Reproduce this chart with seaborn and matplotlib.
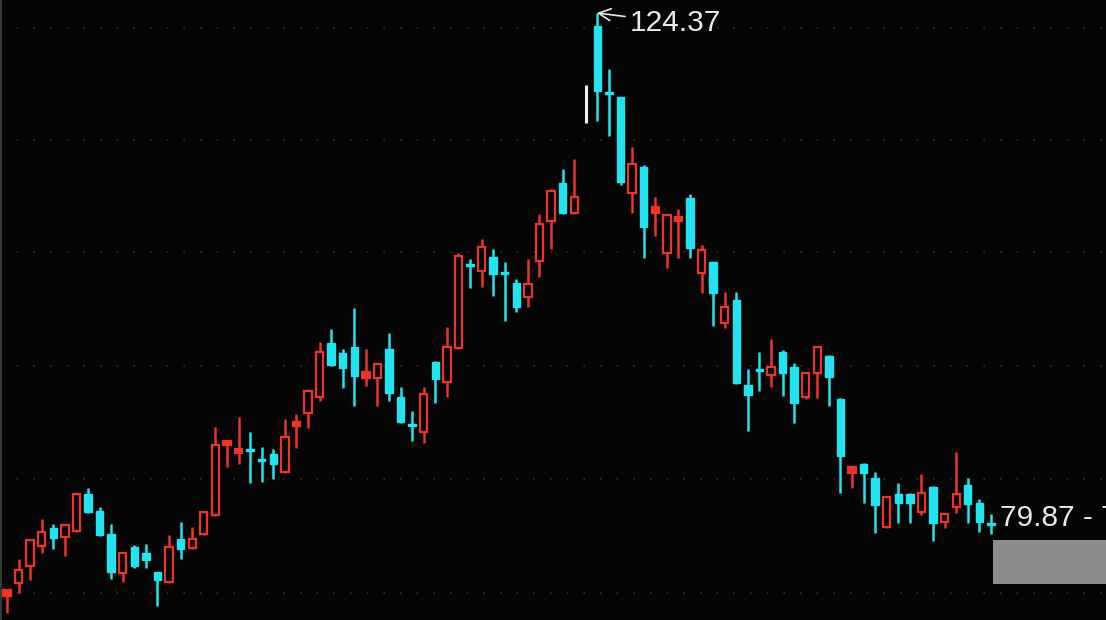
import numpy as np
import pandas as pd
import matplotlib
matplotlib.use("Agg")
import matplotlib.pyplot as plt
import seaborn as sns

# ---- data ----
opens = [73.59, 74.72, 76.20, 77.94, 79.51, 78.73, 79.25, 82.47, 80.99, 78.99,
         75.59, 77.86, 77.33, 75.68, 74.81, 78.55, 77.77, 78.99, 80.64, 86.74,
         86.04, 86.39, 85.52, 85.96, 84.39, 88.40, 89.53, 90.92, 95.62, 94.75,
         95.28, 92.58, 92.58, 95.10, 90.92, 88.57, 87.87, 93.97, 92.23, 95.19,
         102.51, 101.90, 103.12, 101.81, 100.85, 99.63, 102.77, 106.25, 109.56, 106.95,
         118.10, 123.24, 117.49, 117.05, 108.69, 110.95, 106.95, 103.46, 106.25, 108.25,
         101.72, 102.68, 97.37, 99.37, 91.97, 93.36, 92.84, 94.84, 93.53, 90.92,
         93.01, 94.49, 90.75, 84.30, 85.09, 83.87, 79.60, 82.47, 82.47, 80.90,
         83.08, 80.03, 81.34, 83.26, 81.69, 79.95]
highs = [74.20, 76.81, 78.55, 80.30, 79.86, 79.86, 82.56, 83.00, 81.34, 79.86,
         77.42, 78.03, 78.12, 75.68, 78.90, 80.03, 79.60, 80.99, 88.31, 87.18,
         89.18, 87.87, 86.57, 86.39, 89.01, 89.44, 91.62, 95.71, 96.84, 95.10,
         98.67, 95.10, 93.88, 96.50, 91.79, 89.70, 91.79, 94.06, 97.02, 103.46,
         102.94, 104.68, 103.81, 102.68, 101.20, 102.94, 106.86, 109.04, 110.78, 111.65,
         118.10, 124.37, 119.49, 117.05, 112.70, 111.13, 108.34, 106.86, 107.30, 108.60,
         104.16, 102.68, 100.07, 100.07, 93.36, 94.84, 95.97, 95.01, 93.88, 93.01,
         95.28, 94.58, 90.83, 85.00, 85.17, 84.39, 82.30, 83.43, 82.56, 84.21,
         83.17, 80.73, 86.13, 83.87, 82.04, 80.73]
lows = [72.11, 73.85, 74.98, 77.33, 77.68, 77.07, 79.16, 80.82, 78.81, 75.07,
        74.81, 76.03, 76.03, 72.72, 74.72, 76.81, 77.68, 78.90, 80.56, 84.82,
        85.09, 83.43, 83.52, 83.78, 84.30, 86.48, 88.22, 90.57, 93.62, 91.71,
        90.14, 91.88, 90.14, 90.57, 88.66, 87.09, 86.91, 90.40, 90.92, 95.10,
        100.42, 100.50, 99.72, 97.54, 98.32, 98.76, 101.37, 103.81, 106.86, 106.86,
        114.79, 114.96, 113.65, 109.39, 106.95, 103.03, 104.94, 102.16, 103.03, 103.03,
        99.98, 97.11, 96.93, 92.05, 87.96, 91.44, 91.79, 91.01, 88.66, 90.75,
        90.83, 90.14, 82.56, 83.00, 81.69, 79.08, 79.51, 79.95, 79.95, 80.64,
        78.38, 79.51, 80.82, 79.95, 79.16, 78.99]
closes = [74.11, 75.85, 78.47, 79.16, 78.64, 79.77, 82.47, 80.90, 78.90, 75.68,
          77.33, 76.20, 76.72, 74.98, 77.86, 77.68, 78.55, 80.90, 86.74, 87.09,
          86.39, 86.22, 85.35, 85.09, 87.44, 88.74, 91.44, 94.84, 93.71, 93.45,
          92.75, 93.10, 93.80, 91.27, 88.74, 88.40, 91.18, 92.49, 95.28, 103.20,
          102.33, 103.99, 101.63, 101.63, 98.76, 100.76, 105.99, 108.86, 106.95, 108.34,
          114.79, 117.57, 117.31, 109.65, 111.22, 105.73, 107.47, 106.77, 106.60, 103.90,
          103.72, 99.98, 98.76, 92.14, 91.10, 93.19, 93.53, 93.01, 90.40, 93.01,
          95.28, 92.66, 85.78, 84.82, 84.30, 81.51, 82.21, 81.69, 81.69, 82.56,
          79.95, 80.73, 82.47, 81.60, 80.03, 79.77]
# candle 51 is drawn as a plain white line in the source
flat_index = [50]
grid_levels = [123.06, 113.31, 103.55, 93.62, 83.78, 73.85]
high_label = "124.37"
last_label = "79.87 - 79.87"

df = pd.DataFrame({"open": opens, "high": highs, "low": lows, "close": closes})
df["idx"] = np.arange(len(df))
df["kind"] = np.where(df["close"] >= df["open"], "up", "down")
df.loc[flat_index, "kind"] = "flat"

# ---- style ----
BG = "#050505"
RED = "#ec3428"
CYAN = "#22e3ef"
sns.set_theme(style="dark", rc={"axes.facecolor": BG, "figure.facecolor": BG,
                                "axes.grid": False})
plt.rcParams["font.family"] = ["Liberation Sans", "DejaVu Sans"]

fig = plt.figure(figsize=(11.06, 6.2), dpi=100)
ax = fig.add_axes([0, 0, 1, 1])
ax.set_facecolor(BG)

# gridlines (dotted dark red)
for g in grid_levels:
    ax.axhline(g, color="#5c1f1c", lw=1.2, ls=(0, (1, 9)), zorder=0)

palette = {"up": RED, "down": CYAN, "flat": "#f0f0f0"}
# wicks
for kind, sub in df.groupby("kind"):
    ax.vlines(sub["idx"], sub["low"], sub["high"], color=palette[kind],
              lw=1.8 if kind != "flat" else 2.2, zorder=2)

w = 0.64
down = df[df["kind"] == "down"]
body_d = (down["open"] - down["close"]).clip(lower=0.18)
ax.bar(down["idx"], body_d, bottom=down["close"], width=w, color=CYAN,
       edgecolor=CYAN, linewidth=1.0, zorder=3)
up = df[df["kind"] == "up"]
body_u = (up["close"] - up["open"]).clip(lower=0.18)
small = body_u < 0.6
ax.bar(up["idx"][~small], body_u[~small], bottom=up["open"][~small], width=w,
       color=BG, edgecolor=RED, linewidth=1.6, zorder=3)
ax.bar(up["idx"][small], body_u[small], bottom=up["open"][small], width=w,
       color=RED, edgecolor=RED, linewidth=1.6, zorder=3)

# axes ranges so candles land at the same pixels as the source
ax.set_xlim(-0.605, 94.94)
ax.set_ylim(71.50, 125.50)
ax.set_xticks([])
ax.set_yticks([])
for s in ax.spines.values():
    s.set_visible(False)
ax.axvline(-0.58, color="#3a3a3a", lw=2, zorder=1)

# high annotation
ih = int(np.argmax(df["high"]))
ax.annotate(high_label, xy=(df["idx"][ih] - 0.05, df["high"][ih]),
            xytext=(ih + 2.8, df["high"][ih] - 0.85), textcoords="data",
            color="#e8e8e8", fontsize=21.5, va="center", ha="left",
            arrowprops=dict(arrowstyle="->", color="#e8e8e8", lw=1.2,
                            shrinkA=1, shrinkB=0))

# last price label and grey box
il = len(df) - 1
ax.text(il + 0.75, df["close"][il] + 0.6, last_label, color="#e8e8e8",
        fontsize=21.5, va="center", ha="left", clip_on=False)
ax.bar(il + 0.15 + 4.9, 3.8, bottom=df["close"][il] - 5.1, width=9.8,
       color="#8c8c8c", edgecolor="none", zorder=4, align="center")

fig.savefig("out.png", dpi=100, facecolor=BG)
